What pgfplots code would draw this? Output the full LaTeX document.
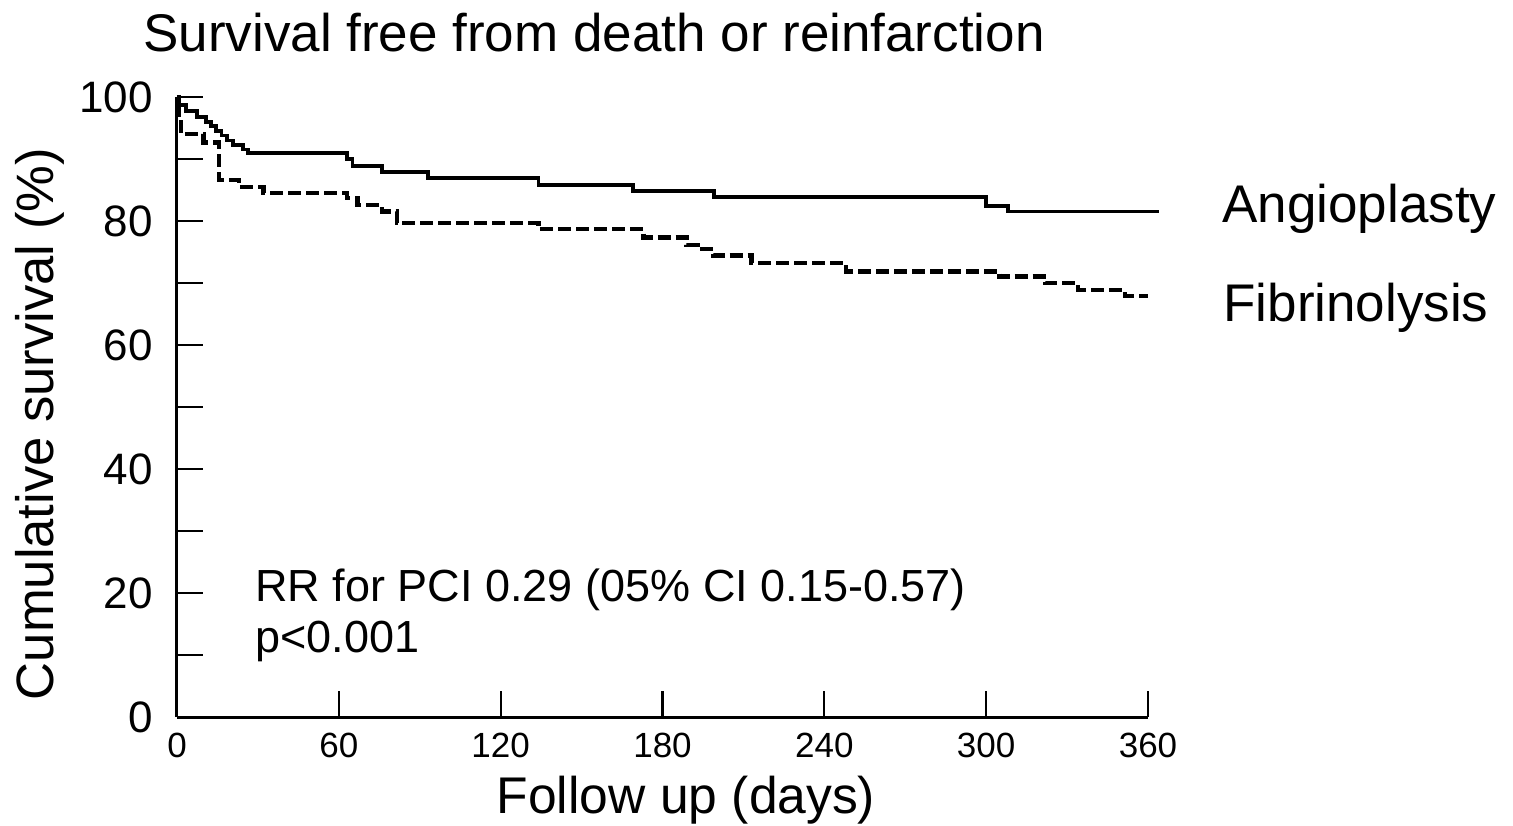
\documentclass[border=0pt]{standalone}
\usepackage{fontspec}
\setmainfont{Liberation Sans}
\usepackage{pgfplots}
\pgfplotsset{compat=1.18}
\begin{document}
\begin{tikzpicture}
\begin{axis}[name=ax, scale only axis, width=485.5bp, height=310bp,
 xmin=0, xmax=360, ymin=0, ymax=100,
 axis lines=left, axis line style={-, line width=1.5bp},
 tick align=inside, xtick={0,60,...,360}, ytick={0,20,...,100}, minor ytick={10,30,...,90},
 major tick length=13bp, minor tick length=13bp, tick style={black, line width=1.1bp},
 clip=false, /pgf/number format/assume math mode=true,
 xticklabel style={font=\fontsize{17.5bp}{20bp}\selectfont, inner sep=0pt, yshift=-8bp},
 yticklabel style={font=\fontsize{22bp}{26bp}\selectfont, inner sep=0pt, xshift=-12bp},
]
\addplot[const plot, line width=1.8bp] coordinates {
(0,100) (1,98.7) (3.3,97.7) (7.4,96.8) (10.8,96.0) (12.5,95.3) (14.5,94.5) (16.5,93.8) (18.5,93.0) (20.8,92.3) (24.5,91.5) (26.3,91.0) (63,90.0) (65,88.9) (76,87.9) (93,86.9) (134,85.8) (169,84.8) (199,83.9) (300,82.4) (308,81.5) (364,81.5)
};
\addplot[const plot, line width=2.3bp, dash pattern=on 6.5bp off 2.5bp] coordinates {
(0,98.5) (0.7,96.5) (1.5,94) (9.8,92.7) (15.5,86.6) (23,85.5) (32,84.5) (63,83.7) (67,82.6) (76,81.5) (81.5,79.7) (134,78.7) (173,77.3) (189,76.1) (193,75.5) (199,74.4) (213,73.2) (248,71.9) (305,71.0) (322,70.0) (334,68.9) (351.5,67.9) (360,67.9)
};
\end{axis}
\node[anchor=base, inner sep=0pt, font=\fontsize{26.5bp}{30bp}\selectfont] at ([shift={(208.5bp,332.5bp)}]ax.south west) {Survival free from death or reinfarction};
\node[anchor=base west, inner sep=0pt, font=\fontsize{26.5bp}{30bp}\selectfont] at ([shift={(522.5bp,247bp)}]ax.south west) {Angioplasty};
\node[anchor=base west, inner sep=0pt, font=\fontsize{26.5bp}{30bp}\selectfont] at ([shift={(523bp,197.5bp)}]ax.south west) {Fibrinolysis};
\node[anchor=base west, inner sep=0pt, font=\fontsize{22.5bp}{26bp}\selectfont] at ([shift={(39bp,57.5bp)}]ax.south west) {RR for PCI 0.29 (05\% CI 0.15-0.57)};
\node[anchor=base west, inner sep=0pt, font=\fontsize{22.5bp}{26bp}\selectfont] at ([shift={(39bp,32.5bp)}]ax.south west) {p<0.001};
\node[anchor=base, rotate=90, inner sep=0pt, font=\fontsize{26.3bp}{30bp}\selectfont] at ([shift={(-61.5bp,146.5bp)}]ax.south west) {Cumulative survival (\%)};
\node[anchor=base, inner sep=0pt, font=\fontsize{25.8bp}{30bp}\selectfont] at ([shift={(254.5bp,-48bp)}]ax.south west) {Follow up (days)};
\pgfresetboundingbox
\path[use as bounding box] ([shift={(-88.5bp,-54.5bp)}]ax.south west) rectangle ++(756.5bp,413bp);
\end{tikzpicture}
\end{document}
